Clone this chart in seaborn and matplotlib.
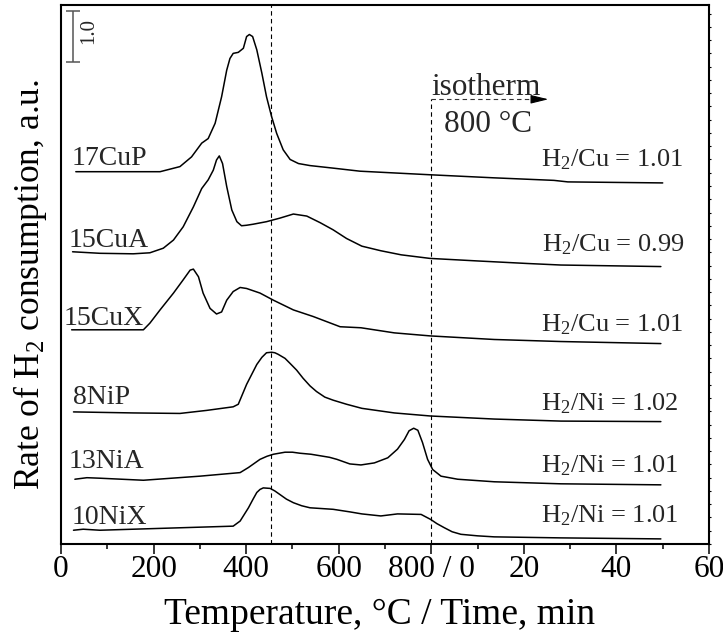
import matplotlib
matplotlib.use("Agg")
import matplotlib.pyplot as plt
from matplotlib.ticker import MultipleLocator, FixedLocator
import seaborn as sns

# x axis: temperature (degC) from 0 to 800, then isotherm time t (min) drawn at 800 + 10*t
cup_x = [32, 214, 257, 282, 304, 318, 333, 347, 358, 365, 372, 383, 394, 401, 407, 414,
         423, 434, 444, 455, 466, 480, 495, 513, 538, 588, 646, 797, 935, 1065, 1095, 1300]
cup_y = [7.30, 7.30, 7.40, 7.59, 7.86, 7.95, 8.25, 8.77, 9.29, 9.52, 9.62, 9.64, 9.72, 9.95, 9.99, 9.95,
         9.69, 9.23, 8.77, 8.38, 8.05, 7.73, 7.54, 7.46, 7.42, 7.37, 7.31, 7.24, 7.18, 7.13, 7.10, 7.08]

cua_x = [25, 84, 156, 192, 221, 243, 264, 286, 304, 318, 329, 336, 342, 349, 358, 369, 380, 390,
         401, 415, 444, 473, 502, 531, 560, 588, 617, 650, 691, 735, 797, 900, 1008, 1080, 1296]
cua_y = [5.73, 5.70, 5.69, 5.71, 5.80, 5.96, 6.22, 6.61, 6.97, 7.14, 7.33, 7.53, 7.61, 7.46, 7.01, 6.55, 6.32, 6.24,
         6.25, 6.27, 6.32, 6.39, 6.47, 6.43, 6.30, 6.16, 5.99, 5.84, 5.75, 5.67, 5.60, 5.55, 5.50, 5.47, 5.44]

cux_x = [23, 178, 192, 214, 243, 264, 279, 286, 297, 307, 322, 336, 347, 358, 372, 387, 401, 430,
         459, 502, 545, 603, 648, 720, 798, 936, 1080, 1296]
cux_y = [4.20, 4.20, 4.33, 4.59, 4.92, 5.18, 5.37, 5.39, 5.24, 4.92, 4.62, 4.51, 4.55, 4.78, 4.95, 5.03, 5.01, 4.92,
         4.78, 4.59, 4.46, 4.26, 4.24, 4.14, 4.08, 4.01, 3.97, 3.93]

nip_x = [27, 156, 257, 315, 372, 383, 401, 423, 434, 444, 455, 462, 469, 484, 495, 509, 523, 538,
         552, 570, 588, 617, 650, 720, 798, 936, 1080, 1296]
nip_y = [2.59, 2.57, 2.56, 2.62, 2.69, 2.74, 3.13, 3.52, 3.66, 3.75, 3.76, 3.75, 3.72, 3.64, 3.54, 3.41, 3.25, 3.10,
         2.99, 2.88, 2.82, 2.74, 2.66, 2.57, 2.51, 2.45, 2.41, 2.40]

nia_x = [30, 56, 84, 178, 300, 387, 405, 430, 445, 459, 484, 500, 516, 540, 560, 580, 596, 624, 648, 677,
         706, 727, 742, 752, 762, 771, 781, 792, 803, 821, 857, 936, 1080, 1296]
nia_y = [1.27, 1.30, 1.29, 1.25, 1.33, 1.40, 1.50, 1.66, 1.72, 1.76, 1.80, 1.80, 1.78, 1.76, 1.73, 1.70, 1.66, 1.57, 1.55, 1.59,
         1.69, 1.86, 2.05, 2.22, 2.27, 2.23, 1.99, 1.66, 1.46, 1.33, 1.27, 1.22, 1.18, 1.16]

nix_x = [27, 48, 84, 228, 372, 387, 405, 415, 423, 430, 437, 452, 462, 473, 487, 502, 520, 538, 588,
         624, 650, 691, 727, 778, 799, 812, 828, 845, 864, 900, 936, 1080, 1296]
nix_y = [0.27, 0.29, 0.27, 0.31, 0.35, 0.45, 0.71, 0.88, 1.01, 1.07, 1.10, 1.09, 1.04, 0.97, 0.88, 0.81, 0.75, 0.71, 0.68,
         0.63, 0.59, 0.55, 0.59, 0.58, 0.48, 0.40, 0.32, 0.24, 0.19, 0.16, 0.14, 0.12, 0.10]

samples = ["17CuP", "15CuA", "15CuX", "8NiP", "13NiA", "10NiX"]
ratios = ["H$_2$/Cu = 1.01", "H$_2$/Cu = 0.99", "H$_2$/Cu = 1.01",
          "H$_2$/Ni = 1.02", "H$_2$/Ni = 1.01", "H$_2$/Ni = 1.01"]
tick_values = [0, 200, 400, 600, 800, 1000, 1200, 1400]
tick_labels = ["0", "200", "400", "600", "800 / 0", "20", "40", "60"]

sns.set_theme(style="ticks")
plt.rcParams["font.family"] = ["Liberation Serif", "DejaVu Serif"]
plt.rcParams["mathtext.fontset"] = "custom"
plt.rcParams["mathtext.rm"] = "Liberation Serif"
plt.rcParams["mathtext.it"] = "Liberation Serif:italic"
plt.rcParams["mathtext.default"] = "rm"

fig = plt.figure(figsize=(7.23, 6.43), dpi=100)
ax = fig.add_axes([61 / 723, 99 / 643, 648 / 723, 539 / 643])

curves = [(cup_x, cup_y), (cua_x, cua_y), (cux_x, cux_y),
          (nip_x, nip_y), (nia_x, nia_y), (nix_x, nix_y)]
for xs, ys in curves:
    sns.lineplot(x=xs, y=ys, ax=ax, color="black", lw=1.1,
                 estimator=None, sort=False, legend=False)

ax.set_xlim(0, 1400)
ax.set_ylim(0, 539 / 51)

dash = (0, (4, 3))
ax.axvline(453, color="black", lw=0.8, ls=dash)
ax.plot([800, 800], [0, 8.72], color="black", lw=0.8, ls=dash)
ax.plot([800, 1028], [8.72, 8.72], color="#333333", lw=0.8, ls=dash)
ax.annotate("", xy=(1053, 8.72), xytext=(1024, 8.72),
            arrowprops=dict(arrowstyle="-|>,head_length=0.9,head_width=0.22",
                            color="black", lw=0.8, shrinkA=0, shrinkB=0))
ax.text(800, 8.80, "isotherm", fontsize=22.5, ha="left", va="baseline")
ax.text(828, 8.08, "800 °C", fontsize=22.5, ha="left", va="baseline")

# scale bar
ax.errorbar([26.6], [9.96], yerr=[0.5], color="#555555", capsize=4.7,
            elinewidth=1.1, capthick=1.1, fmt="none")
ax.text(60, 10.06, "1.0", rotation=90, fontsize=15, ha="center", va="center")

name_pos = [(24, 7.43), (16, 5.83), (5, 4.29), (27, 2.74), (16, 1.50), (23, 0.39)]
ratio_pos = [(1037, 7.40), (1040, 5.73), (1037, 4.16), (1037, 2.61), (1037, 1.40), (1037, 0.43)]
for name, (px, py) in zip(samples, name_pos):
    ax.text(px, py, name, fontsize=20, ha="left", va="baseline")
for lab, (px, py) in zip(ratios, ratio_pos):
    ax.text(px, py, lab, fontsize=19, ha="left", va="baseline")

ax.xaxis.set_major_locator(FixedLocator(tick_values))
ax.set_xticklabels(tick_labels)
ax.xaxis.set_minor_locator(MultipleLocator(100))
ax.tick_params(axis="x", which="major", direction="out", length=7, width=1.1,
               labelsize=22.5, pad=1, color="black", labelcolor="black")
ax.tick_params(axis="x", which="minor", direction="out", length=3.5, width=1.1, color="black")

ax.yaxis.set_major_locator(MultipleLocator(0.26))
ax.yaxis.set_ticks_position("right")
ax.tick_params(axis="y", which="major", direction="out", length=1.5, width=0.8,
               labelleft=False, labelright=False, color="black")

for sp in ax.spines.values():
    sp.set_visible(True)
    sp.set_linewidth(1.5)
    sp.set_color("black")

ax.set_xlabel("Temperature, °C / Time, min", fontsize=27, color="black")
ax.set_ylabel("Rate of H$_2$ consumption, a.u.", fontsize=25.5, color="black")
ax.xaxis.set_label_coords(0.4915, -0.10)
ax.yaxis.set_label_coords(-0.018, 0.481)

fig.savefig("out.png", dpi=100)
